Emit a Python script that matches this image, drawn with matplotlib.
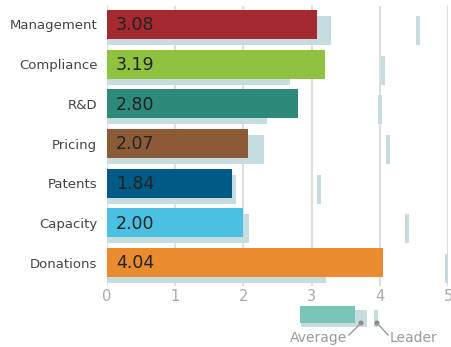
import matplotlib
matplotlib.use("Agg")
import matplotlib.pyplot as plt
from matplotlib.patches import Rectangle, Circle

categories = ["Management", "Compliance", "R&D", "Pricing", "Patents", "Capacity", "Donations"]
scores = [3.08, 3.19, 2.80, 2.07, 1.84, 2.00, 4.04]
averages = [3.28, 2.69, 2.35, 2.30, 1.89, 2.08, 3.21]
leaders = [4.56, 4.05, 4.00, 4.12, 3.11, 4.40, 4.99]
colors = ["#a22a30", "#8fc33f", "#2d8a7b", "#8b5b38", "#005a86", "#4ac0e3", "#e98b2e"]
xticks = [0, 1, 2, 3, 4, 5]

W, H = 452, 347
fig = plt.figure(figsize=(W / 100, H / 100), dpi=100)
ax = fig.add_axes([107 / W, 1 - 286 / H, (448 - 107) / W, (286 - 6) / H])
ax.set_xlim(0, 5)
ax.set_ylim(6.59, -0.466)

avg_col = "#c6dde0"
bh = 0.73
off = 0.15
for x in xticks:
    ax.axvline(x, color="#dedede", lw=1.5, zorder=0)
for i, (s, a, l, c) in enumerate(zip(scores, averages, leaders, colors)):
    ax.barh(i + off, a, height=bh, color=avg_col, zorder=1)
    ax.barh(i + off, 0.06, left=l - 0.03, height=bh, color=avg_col, zorder=1)
    ax.barh(i, s, height=bh, color=c, zorder=2)
    ax.text(0.13, i + 0.02, f"{s:.2f}", va="center", ha="left", fontsize=12.5,
            color="#222222", zorder=3)

ax.set_yticks(range(len(categories)))
ax.set_yticklabels(categories, fontsize=9.5, color="#444444")
ax.set_xticks(xticks)
ax.set_xticklabels([str(x) for x in xticks], fontsize=10.5, color="#aaaaaa")
ax.tick_params(axis="y", length=0, pad=7)
ax.tick_params(axis="x", length=0, pad=2)
for sp in ax.spines.values():
    sp.set_visible(False)

# legend
lg = fig.add_axes([0, 0, 1, 1])
lg.set_xlim(0, W)
lg.set_ylim(H, 0)
lg.axis("off")
lg.add_patch(Rectangle((301, 310), 66, 17, color=avg_col, lw=0))
lg.add_patch(Rectangle((300, 306), 55, 17, color="#79c5b8", lw=0))
lg.add_patch(Rectangle((374, 310), 4, 17, color=avg_col, lw=0))
lg.plot([361, 349], [323, 335], color="#999999", lw=1)
lg.plot([377, 388], [323, 335], color="#999999", lw=1)
lg.add_patch(Circle((361, 323), 1.8, color="#888888"))
lg.add_patch(Circle((377, 323), 1.8, color="#888888"))
lg.text(347, 338, "Average", ha="right", va="center", fontsize=10, color="#999999")
lg.text(390, 338, "Leader", ha="left", va="center", fontsize=10, color="#999999")

fig.savefig("out.png", dpi=100)
